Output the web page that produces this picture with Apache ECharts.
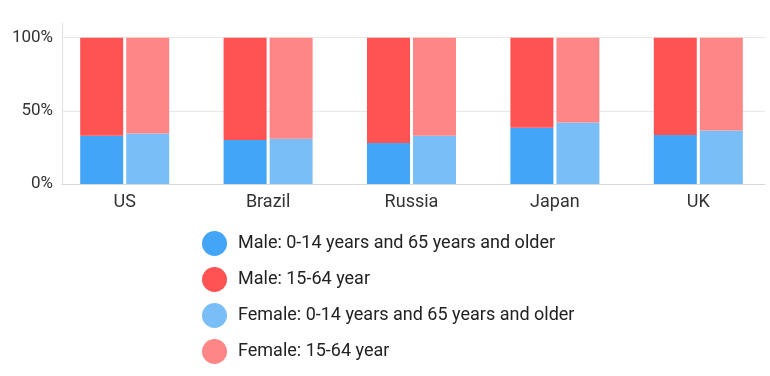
<!DOCTYPE html>
<html>
<head>
<meta charset="utf-8">
<script src="https://cdn.jsdelivr.net/npm/echarts@6/dist/echarts.min.js"></script>
<style>
  html, body { margin: 0; padding: 0; background: #fff; }
  #chart { width: 770px; height: 376px; }
</style>
</head>
<body>
<div id="chart"></div>
<script>
var categories = ['US', 'Brazil', 'Russia', 'Japan', 'UK'];
var maleYoungOld = [33, 30, 28, 38.5, 33.5];
var maleWorking = [67, 70, 72, 61.5, 66.5];
var femaleYoungOld = [34.5, 31, 33, 42, 36.5];
var femaleWorking = [65.5, 69, 67, 58, 63.5];
var yTicks = [0, 50, 100];

var labelColor = '#333';
var fontName = 'Roboto';

var chart = echarts.init(document.getElementById('chart'));

var option = {
  animation: false,
  textStyle: { fontFamily: fontName },
  grid: [
    // bars
    { left: 53, width: 722, top: 23, bottom: 192 },
    // visible axis frame
    { left: 62, right: 5, top: 23, bottom: 192 }
  ],
  xAxis: [
    {
      type: 'category',
      gridIndex: 0,
      data: categories,
      axisLine: { show: false },
      axisTick: { show: false },
      axisLabel: { color: labelColor, fontSize: 18, margin: 9 }
    },
    {
      type: 'value',
      gridIndex: 1,
      min: 0,
      max: 1,
      axisLine: { show: true, lineStyle: { color: '#d9d9d9', width: 1 } },
      axisTick: { show: false },
      axisLabel: { show: false },
      splitLine: { show: false }
    }
  ],
  yAxis: [
    {
      type: 'value',
      gridIndex: 0,
      min: 0,
      max: 110,
      show: false,
      splitLine: { show: false }
    },
    {
      type: 'value',
      gridIndex: 1,
      min: 0,
      max: 110,
      interval: 50,
      axisLine: { show: true, lineStyle: { color: '#e0e0e0', width: 1 } },
      axisTick: { show: false },
      axisLabel: {
        color: labelColor,
        fontSize: 17,
        margin: 9,
        showMaxLabel: false,
        formatter: function (v) {
          return yTicks.indexOf(v) >= 0 ? v + '%' : '';
        }
      },
      splitLine: {
        show: true,
        showMaxLine: false,
        lineStyle: { color: '#e8e8e8', width: 1 }
      }
    }
  ],
  legend: {
    orient: 'vertical',
    left: 202,
    top: 231,
    padding: 0,
    icon: 'circle',
    itemWidth: 25,
    itemHeight: 25,
    itemGap: 11,
    textStyle: { color: '#222', fontSize: 18, padding: [0, 0, 0, 6] },
    data: [
      'Male: 0-14 years and 65 years and older',
      'Male: 15-64 year',
      'Female: 0-14 years and 65 years and older',
      'Female: 15-64 year'
    ]
  },
  series: [
    {
      name: 'Male: 0-14 years and 65 years and older',
      type: 'bar',
      stack: 'male',
      xAxisIndex: 0,
      yAxisIndex: 0,
      barWidth: 43,
      barGap: '7%',
      itemStyle: { color: '#42a5f5' },
      data: maleYoungOld
    },
    {
      name: 'Male: 15-64 year',
      type: 'bar',
      stack: 'male',
      xAxisIndex: 0,
      yAxisIndex: 0,
      barWidth: 43,
      barGap: '7%',
      itemStyle: { color: '#ff5252' },
      data: maleWorking
    },
    {
      name: 'Female: 0-14 years and 65 years and older',
      type: 'bar',
      stack: 'female',
      xAxisIndex: 0,
      yAxisIndex: 0,
      barWidth: 43,
      barGap: '7%',
      itemStyle: { color: '#7abef8' },
      data: femaleYoungOld
    },
    {
      name: 'Female: 15-64 year',
      type: 'bar',
      stack: 'female',
      xAxisIndex: 0,
      yAxisIndex: 0,
      barWidth: 43,
      barGap: '7%',
      itemStyle: { color: '#ff8686' },
      data: femaleWorking
    }
  ]
};

chart.setOption(option);
</script>
</body>
</html>
